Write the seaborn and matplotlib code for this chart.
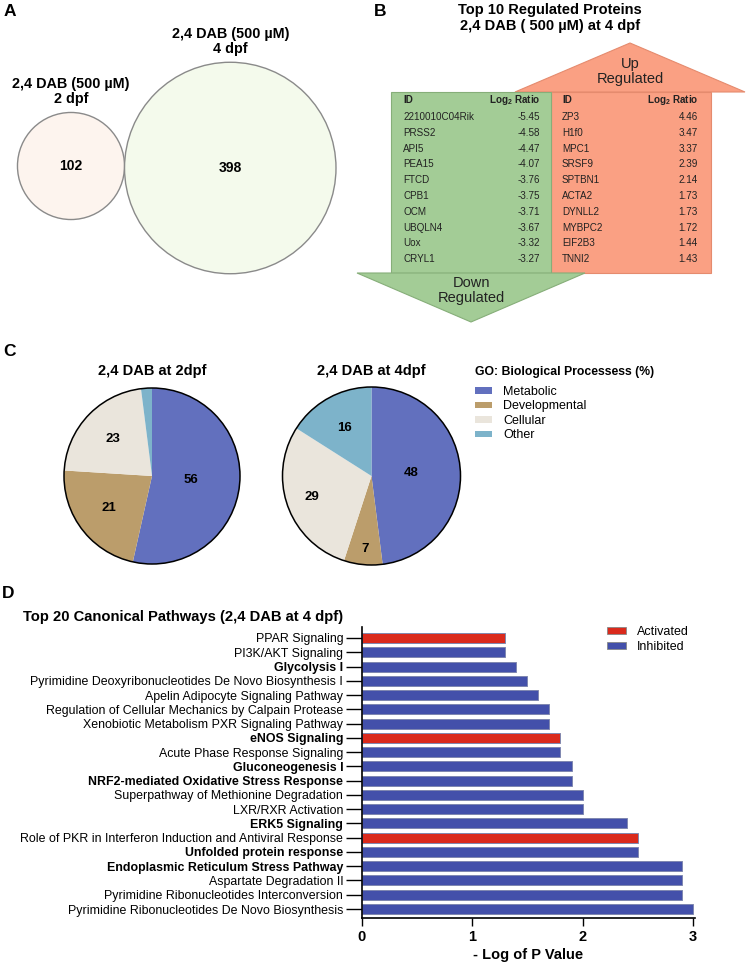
import numpy as np
import pandas as pd
import seaborn as sns
import matplotlib
matplotlib.use('Agg')
import matplotlib.pyplot as plt
from matplotlib.patches import Circle, Polygon, Rectangle, Patch
from matplotlib import font_manager

sns.set_style('white')
plt.rcParams['font.family'] = ['Liberation Sans', 'DejaVu Sans']
plt.rcParams['mathtext.fontset'] = 'custom'
plt.rcParams['mathtext.rm'] = 'Liberation Sans'
plt.rcParams['mathtext.bf'] = 'Liberation Sans:bold'
for k in ['text.color', 'axes.labelcolor', 'xtick.color', 'ytick.color', 'axes.edgecolor']:
    plt.rcParams[k] = 'black'

# ---- data ----
# A: protein counts
venn_labels = ['2,4 DAB (500 µM)\n2 dpf', '2,4 DAB (500 µM)\n4 dpf']
venn_counts = [102, 398]

# B: top 10 regulated proteins
down_ids = ['2210010C04Rik', 'PRSS2', 'API5', 'PEA15', 'FTCD', 'CPB1', 'OCM', 'UBQLN4', 'Uox', 'CRYL1']
down_ratio = [-5.45, -4.58, -4.47, -4.07, -3.76, -3.75, -3.71, -3.67, -3.32, -3.27]
up_ids = ['ZP3', 'H1f0', 'MPC1', 'SRSF9', 'SPTBN1', 'ACTA2', 'DYNLL2', 'MYBPC2', 'EIF2B3', 'TNNI2']
up_ratio = [4.46, 3.47, 3.37, 2.39, 2.14, 1.73, 1.73, 1.72, 1.44, 1.43]

# C: GO biological processes (%)
go_categories = ['Metabolic', 'Developmental', 'Cellular', 'Other']
go_2dpf = [53.5, 22.5, 22, 2]
go_2dpf_text = ['56', '21', '23', '']
go_4dpf = [48, 7, 29, 16]
go_4dpf_text = ['48', '7', '29', '16']

# D: canonical pathways
pathways = ['PPAR Signaling', 'PI3K/AKT Signaling', 'Glycolysis I',
            'Pyrimidine Deoxyribonucleotides De Novo Biosynthesis I',
            'Apelin Adipocyte Signaling Pathway',
            'Regulation of Cellular Mechanics by Calpain Protease',
            'Xenobiotic Metabolism PXR Signaling Pathway', 'eNOS Signaling',
            'Acute Phase Response Signaling', 'Gluconeogenesis I',
            'NRF2-mediated Oxidative Stress Response',
            'Superpathway of Methionine Degradation', 'LXR/RXR Activation',
            'ERK5 Signaling',
            'Role of PKR in Interferon Induction and Antiviral Response',
            'Unfolded protein response', 'Endoplasmic Reticulum Stress Pathway',
            'Aspartate Degradation II', 'Pyrimidine Ribonucleotides Interconversion',
            'Pyrimidine Ribonucleotides De Novo Biosynthesis']
neg_log_p = [1.3, 1.3, 1.4, 1.5, 1.6, 1.7, 1.7, 1.8, 1.8, 1.9,
             1.9, 2.0, 2.0, 2.4, 2.5, 2.5, 2.9, 2.9, 2.9, 3.0]
pathway_status = ['Activated', 'Inhibited', 'Inhibited', 'Inhibited', 'Inhibited',
                  'Inhibited', 'Inhibited', 'Activated', 'Inhibited', 'Inhibited',
                  'Inhibited', 'Inhibited', 'Inhibited', 'Inhibited', 'Activated',
                  'Inhibited', 'Inhibited', 'Inhibited', 'Inhibited', 'Inhibited']
bold_pathways = ['Glycolysis I', 'eNOS Signaling', 'Gluconeogenesis I',
                 'NRF2-mediated Oxidative Stress Response', 'ERK5 Signaling',
                 'Unfolded protein response', 'Endoplasmic Reticulum Stress Pathway']

# colours
go_colors = ['#6270BE', '#BB9D6B', '#EAE5DC', '#7DB3CA']
RED = '#DA2A1C'
BLUE = '#4350AA'
GREEN = '#A3CC96'
SALMON = '#FAA083'

W, H = 749, 966
fig = plt.figure(figsize=(W / 100, H / 100), dpi=100)

# ---- D: bar chart ----
ax_d = fig.add_axes([362 / W, (H - 918) / H, (695 - 362) / W, (918 - 627) / H])
df = pd.DataFrame({'pathway': pathways, 'value': neg_log_p, 'status': pathway_status})
sns.barplot(data=df, x='value', y='pathway', hue='status', hue_order=['Activated', 'Inhibited'],
            palette={'Activated': RED, 'Inhibited': BLUE}, dodge=False, width=0.7,
            saturation=1, edgecolor='#8088B0', linewidth=0.7, legend=False, orient='h', ax=ax_d)
ax_d.set_xlim(0, 3.02)
ax_d.set_ylim(19.63, -0.77)
ax_d.set_xticks([0, 1, 2, 3])
ax_d.set_ylabel('')
ax_d.set_xlabel('- Log of P Value', fontsize=10.5, fontweight='bold', labelpad=3)
sns.despine(ax=ax_d)
for s in ['left', 'bottom']:
    ax_d.spines[s].set_linewidth(1.2)
ax_d.tick_params(axis='y', left=True, length=11.5, width=1, pad=2, labelsize=8.9)
ax_d.tick_params(axis='x', bottom=True, length=5.8, width=1, pad=3, labelsize=10.5)
for lbl in ax_d.get_xticklabels():
    lbl.set_fontweight('bold')
for lbl in ax_d.get_yticklabels():
    if lbl.get_text() in bold_pathways:
        lbl.set_fontweight('bold')
ax_d.legend([Patch(fc=RED, ec='#888888', lw=0.6), Patch(fc=BLUE, ec='#888888', lw=0.6)],
            ['Activated', 'Inhibited'], loc='upper left', bbox_to_anchor=(607 / W, 1 - 626 / H),
            bbox_transform=fig.transFigure, frameon=False, fontsize=9, handlelength=1.55,
            handleheight=0.45, handletextpad=0.85, labelspacing=0.25, borderpad=0, borderaxespad=0)

# ---- C: pies ----
def draw_pie(cx, cy, r, sizes, texts, dists):
    ax = fig.add_axes([(cx - 100) / W, 1 - (cy + 100) / H, 200 / W, 200 / H])
    ax.pie(sizes, colors=go_colors, startangle=90, counterclock=False, radius=1,
           wedgeprops=dict(linewidth=0))
    ax.add_patch(Circle((0, 0), 1, fill=False, ec='black', lw=1.1))
    s = np.array(sizes, dtype=float)
    mid = np.cumsum(s) - s / 2
    theta = np.deg2rad(90 - 360 * mid / s.sum())
    for t, d, a in zip(texts, dists, theta):
        if t:
            ax.text(d * np.cos(a), d * np.sin(a), t, ha='center', va='center',
                    fontsize=9.5, fontweight='bold')
    ax.set_xlim(-100 / r, 100 / r)
    ax.set_ylim(-100 / r, 100 / r)
    return ax

draw_pie(152, 476, 88, go_2dpf, go_2dpf_text, [0.45, 0.61, 0.61, 0])
draw_pie(371.5, 476, 89, go_4dpf, go_4dpf_text, [0.45, 0.82, 0.71, 0.62])

fig.legend([Patch(fc=c, ec='none') for c in go_colors], go_categories, loc='upper left',
           bbox_to_anchor=(475 / W, 1 - 386 / H), frameon=False, fontsize=9,
           handlelength=1.37, handleheight=0.4, handletextpad=0.88, labelspacing=0.2,
           borderpad=0, borderaxespad=0)

# ---- overlay in pixel coordinates (A, B, titles) ----
ax_o = fig.add_axes([0, 0, 1, 1])
ax_o.set_xlim(0, W)
ax_o.set_ylim(H, 0)
ax_o.axis('off')

for letter, x, y in [('A', 10, 12), ('B', 380, 12), ('C', 9, 352), ('D', 8, 593)]:
    ax_o.text(x, y, letter, ha='center', va='center', fontsize=12.5, fontweight='bold')

# A: area-proportional circles
k = 5.3
r0, r1 = k * np.sqrt(venn_counts[0]), k * np.sqrt(venn_counts[1])
centers = [(71, 166), (71 + r0 + r1, 168)]
for (cx, cy), r, fc, n, lab in zip(centers, [r0, r1], ['#FDF4EE', '#F4FAEC'], venn_counts, venn_labels):
    ax_o.add_patch(Circle((cx, cy), r, fc=fc, ec='#8A8A8A', lw=1))
    ax_o.text(cx, cy, str(n), ha='center', va='center', fontsize=10, fontweight='bold')
    ax_o.text(cx, cy - r - 21, lab, ha='center', va='center', fontsize=10.4,
              fontweight='bold', linespacing=1.1)

# B: regulated proteins
ax_o.text(550, 18, 'Top 10 Regulated Proteins\n2,4 DAB ( 500 µM) at 4 dpf', ha='center',
          va='center', fontsize=10.5, fontweight='bold', linespacing=1.2)
ax_o.add_patch(Polygon([(515, 92), (630, 43), (745, 92)], closed=True, fc=SALMON, ec='#E58B6E', lw=0.8))
ax_o.add_patch(Rectangle((551, 92), 160, 181, fc=SALMON, ec='#E58B6E', lw=0.8))
ax_o.add_patch(Rectangle((391, 92), 160, 181, fc=GREEN, ec='#86AE79', lw=0.8))
ax_o.add_patch(Polygon([(357, 273), (585, 273), (471, 322)], closed=True, fc=GREEN, ec='#86AE79', lw=0.8))
ax_o.text(630, 71.5, 'Up\nRegulated', ha='center', va='center', fontsize=10.5, linespacing=1.15, color='#222222')
ax_o.text(471, 290.5, 'Down\nRegulated', ha='center', va='center', fontsize=10.5, linespacing=1.15, color='#222222')

names = {f.name for f in font_manager.fontManager.ttflist}
if 'Liberation Sans Narrow' in names:
    tfont = dict(family='Liberation Sans Narrow', size=8.4)
else:
    tfont = dict(family='Liberation Sans', size=7.1)
hdr = r'Log$_\mathbf{2}$ Ratio'
for x_id, x_val, ids, vals in [(403, 540, down_ids, down_ratio), (562, 698, up_ids, up_ratio)]:
    ax_o.text(x_id, 100, 'ID', ha='left', va='center', fontweight='bold', color='#222222', **tfont)
    ax_o.text(x_val, 100, hdr, ha='right', va='center', fontweight='bold', color='#222222', **tfont)
    for i, (g, v) in enumerate(zip(ids, vals)):
        y = 117 + 15.8 * i
        ax_o.text(x_id, y, g, ha='left', va='center', color='#222222', **tfont)
        ax_o.text(x_val, y, f'{v:.2f}', ha='right', va='center', color='#222222', **tfont)

# C titles
ax_o.text(152, 371, '2,4 DAB at 2dpf', ha='center', va='center', fontsize=10.5, fontweight='bold')
ax_o.text(371, 371, '2,4 DAB at 4dpf', ha='center', va='center', fontsize=10.5, fontweight='bold')
ax_o.text(475, 372, 'GO: Biological Processess (%)', ha='left', va='center', fontsize=8.8, fontweight='bold')

# D title
ax_o.text(23, 617, 'Top 20 Canonical Pathways (2,4 DAB at 4 dpf)', ha='left', va='center',
          fontsize=10.6, fontweight='bold')

fig.savefig('out.png', dpi=100)
